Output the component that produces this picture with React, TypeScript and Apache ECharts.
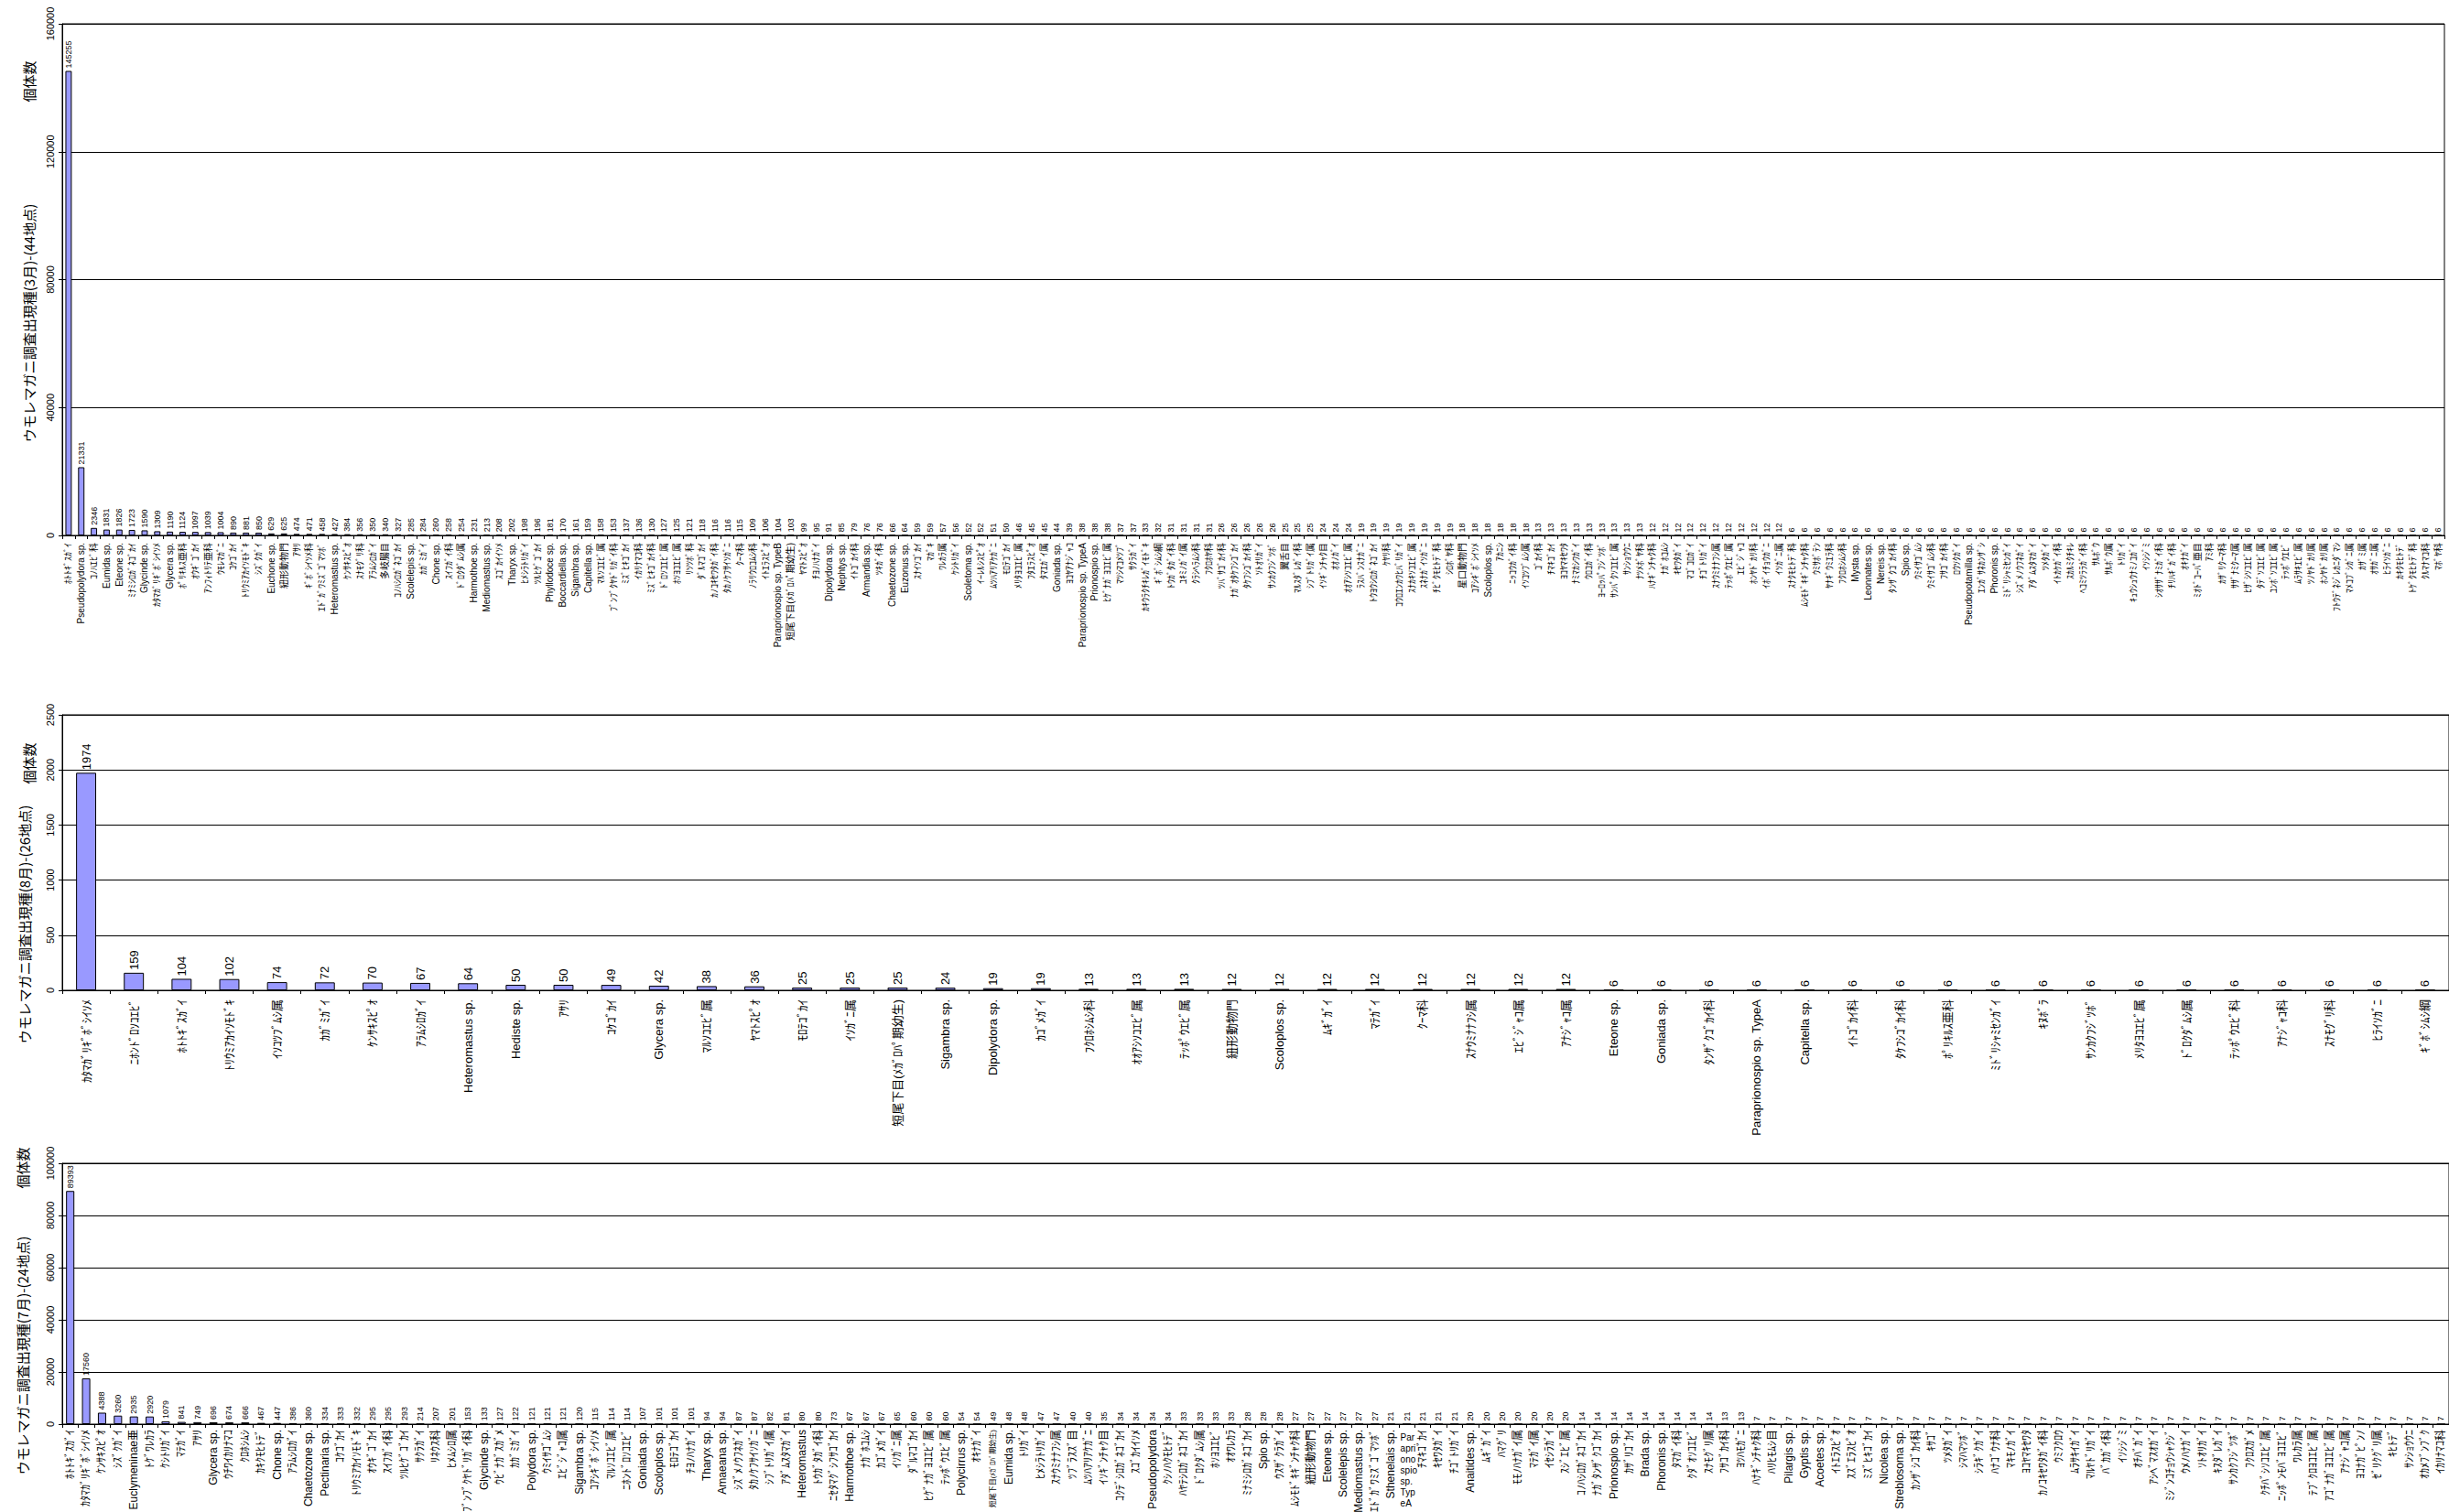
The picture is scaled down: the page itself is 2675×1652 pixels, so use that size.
import React, { useEffect, useRef } from "react";
import * as echarts from "echarts";

// ---------- Panel 1 : March (44 sites) ----------
const cats1 = [
  "ﾎﾄﾄｷﾞｽｶﾞｲ", "Pseudopolydora sp.", "ｺﾉﾊｴﾋﾞ科", "Eumida sp.", "Eteone sp.", "ﾐﾅﾐｼﾛｶﾞﾈｺﾞｶｲ", "Glycinde sp.", "ｶﾀﾏｶﾞﾘｷﾞﾎﾞｼｲｿﾒ",
  "Glycera sp.", "ﾎﾟﾘｷﾙｽ亜科", "ｵｳｷﾞｺﾞｶｲ", "ｱﾝﾌｨﾄﾘﾃ亜科", "ｳﾓﾚﾏｶﾞﾆ", "ｺｹｺﾞｶｲ", "ﾄﾘｳﾐｱｶｲｿﾓﾄﾞｷ", "ｼｽﾞｸｶﾞｲ",
  "Euchone sp.", "紐形動物門", "ｱｻﾘ", "ｷﾞﾎﾞｼｲｿﾒ科", "ｴﾄﾞｶﾞﾜﾐｽﾞｺﾞﾏﾂﾎﾞ", "Heteromastus sp.", "ｹﾝｻｷｽﾋﾟｵ", "ｽﾅﾓｸﾞﾘ科",
  "ｱﾗﾑｼﾛｶﾞｲ", "多岐腸目", "ｺﾉﾊｼﾛｶﾞﾈｺﾞｶｲ", "Scolelepis sp.", "ｶｶﾞﾐｶﾞｲ", "Chone sp.", "ｽｲﾌｶﾞｲ科", "ﾄﾞﾛｸﾀﾞﾑｼ属",
  "Harmothoe sp.", "Mediomastus sp.", "ｽｺﾞｶｲｲｿﾒ", "Tharyx sp.", "ﾋﾒｼﾗﾄﾘｶﾞｲ", "ﾂﾙﾋｹﾞｺﾞｶｲ", "Phyllodoce sp.", "Boccardiella sp.",
  "Sigambra sp.", "Capitella sp.", "ﾏﾙｿｺｴﾋﾞ属", "ﾌﾞﾝﾌﾞｸﾔﾄﾞﾘｶﾞｲ科", "ﾐｽﾞﾋｷｺﾞｶｲ", "ｲｶﾘﾅﾏｺ科", "ﾐｽﾞﾋｷｺﾞｶｲ科", "ﾄﾞﾛｿｺｴﾋﾞ属",
  "ﾎｿﾖｺｴﾋﾞ属", "ﾘｿﾂﾎﾞ科", "ﾀﾞﾙﾏｺﾞｶｲ", "ｶﾉｺｷｾﾜﾀｶﾞｲ科", "ﾀｶﾉｹﾌｻｲｿｶﾞﾆ", "ｸｰﾏ科", "ﾉﾗﾘｳﾛｺﾑｼ科", "ｲﾄｴﾗｽﾋﾟｵ",
  "Paraprionospio sp. TypeB", "短尾下目(ﾒｶﾞﾛﾊﾟ期幼生)", "ﾔﾏﾄｽﾋﾟｵ", "ﾁﾖﾉﾊﾅｶﾞｲ", "Dipolydora sp.", "Nephtys sp.", "ｲﾄｺﾞｶｲ科", "Armandia sp.",
  "ﾂｷｶﾞｲ科", "Chaetozone sp.", "Euzonus sp.", "ｽﾅｲｿｺﾞｶｲ", "ﾏｶﾞｷ", "ﾜﾚｶﾗ属", "ｹｼﾄﾘｶﾞｲ", "Scoletoma sp.",
  "ｲｰﾚﾙｼｽﾋﾟｵ", "ﾑﾂﾊｱﾘｱｹｶﾞﾆ", "ﾓﾛﾃｺﾞｶｲ", "ﾒﾘﾀﾖｺｴﾋﾞ属", "ﾌﾀｴﾗｽﾋﾟｵ", "ﾀﾏｴｶﾞｲ属", "Goniada sp.", "ﾖｺﾔｱﾅｼﾞｬｺ",
  "Paraprionospio sp. TypeA", "Prionospio sp.", "ﾋｹﾞﾅｶﾞﾖｺｴﾋﾞ属", "ﾏﾂｼﾏｺﾒﾂﾌﾞ", "ｻｸﾗｶﾞｲ", "ｶｷｳﾗｸﾁｷﾚｶﾞｲﾓﾄﾞｷ", "ｷﾞﾎﾞｼﾑｼ綱", "ﾄｳｶﾞﾀｶﾞｲ科",
  "ﾕｷﾐﾉｶﾞｲ属", "ｸﾗｼﾍﾗﾑｼ科", "ﾌｸﾛﾎﾔ科", "ﾂﾊﾞｻｺﾞｶｲ科", "ﾅｶﾞｵﾀｹﾌｼｺﾞｶｲ", "ﾀｹﾌｼｺﾞｶｲ科", "ｿﾄｵﾘｶﾞｲ", "ｻﾝｶｸﾌｼﾞﾂﾎﾞ",
  "翼舌目", "ﾏﾙｽﾀﾞﾚｶﾞｲ科", "ｼﾌﾞﾄﾘｶﾞｲ属", "ｲｿｷﾞﾝﾁｬｸ目", "ｵｵﾉｶﾞｲ", "ｵｵｱｼｿｺｴﾋﾞ属", "ﾗｽﾊﾞﾝｽﾅｶﾞﾆ", "ﾄｳﾖｳｼﾛｶﾞﾈｺﾞｶｲ",
  "ｹﾔﾘ科", "ｺｳﾛｴﾝｶﾜﾋﾊﾞﾘｶﾞｲ", "ｽﾅｶｷｿｺｴﾋﾞ属", "ｽﾈﾅｶﾞｲｿｶﾞﾆ", "ﾁﾋﾞｸﾓﾋﾄﾃﾞ科", "ｼﾛﾎﾞﾔ科", "星口動物門", "ｺｱｼｷﾞﾎﾞｼｲｿﾒ",
  "Scoloplos sp.", "ｱｶﾆｼ", "ﾆｯｺｳｶﾞｲ科", "ｲｿｺﾂﾌﾞﾑｼ属", "ｺﾞｶｲ科", "ﾁﾏｷｺﾞｶｲ", "ﾖｺﾔﾏｷｾﾜﾀ", "ﾅﾐﾏｶｼﾜｶﾞｲ",
  "ｳﾛｺｶﾞｲ科", "ﾖｰﾛｯﾊﾟﾌｼﾞﾂﾎﾞ", "ｻﾝﾊﾟｸｿｺｴﾋﾞ属", "ｻﾝｼｮｳｳﾆ", "ﾅﾂﾒﾎﾞﾔ科", "ﾊﾅｷﾞﾝﾁｬｸ科", "ﾅｶﾞﾎｺﾑｼ", "ｷｾﾜﾀｶﾞｲ",
  "ﾏｺﾞｺﾛｶﾞｲ", "ﾁｺﾞﾄﾘｶﾞｲ", "ｽﾅｳﾐﾅﾅﾌｼ属", "ﾃｯﾎﾟｳｴﾋﾞ属", "ｴﾋﾞｼﾞｬｺ", "ﾎﾝﾔﾄﾞｶﾘ科", "ｲﾎﾞｲﾁｮｳｶﾞﾆ", "ｲｿｶﾞﾆ属",
  "ｽﾅｸﾓﾋﾄﾃﾞ科", "ﾑｼﾓﾄﾞｷｷﾞﾝﾁｬｸ科", "ｳﾐｻﾎﾞﾃﾝ", "ﾔﾅｷﾞｳﾐｴﾗ科", "ﾌｸﾛﾎｼﾑｼ科", "Mysta sp.", "Leonnates sp.", "Nereis sp.",
  "ﾀﾝｻﾞｸｺﾞｶｲ科", "Spio sp.", "ｳﾐｲｻｺﾞﾑｼ", "ｳﾐｲｻｺﾞﾑｼ科", "ﾌｻｺﾞｶｲ科", "ﾛｳｿｸｶﾞｲ", "Pseudopotamilla sp.", "ｴﾝｶﾞｻﾈｶﾝｻﾞｼ",
  "Phoronis sp.", "ﾐﾄﾞﾘｼｬﾐｾﾝｶﾞｲ", "ｼｽﾞﾒﾉｳﾌﾈｶﾞｲ", "ｱﾀﾞﾑｽﾀﾏｶﾞｲ", "ﾂﾒﾀｶﾞｲ", "ｲﾄｶｹｶﾞｲ科", "ｽｶﾙﾐｸﾁｷﾚ", "ﾍｺﾐﾂﾗﾗｶﾞｲ科",
  "ｻﾙﾎﾞｳ", "ｻﾙﾎﾞｳ属", "ﾄﾘｶﾞｲ", "ｷｭｳｼｭｳﾅﾐﾉｺｶﾞｲ", "ｲｿｼｼﾞﾐ", "ｼｵｻｻﾞﾅﾐｶﾞｲ科", "ﾁﾘﾊｷﾞｶﾞｲ科", "ｵｷﾅｶﾞｲ",
  "ﾐｵﾄﾞｺｰﾊﾟ亜目", "ｱﾐ科", "ｶｻﾞﾘｸｰﾏ科", "ｻｻﾞﾅﾐｸｰﾏ属", "ﾋｻﾞｼｿｺｴﾋﾞ属", "ﾀﾃﾞｿｺｴﾋﾞ属", "ﾕﾝﾎﾞｿｺｴﾋﾞ属", "ﾃｯﾎﾟｳｴﾋﾞ",
  "ﾑﾗｻｷｴﾋﾞ属", "ﾂﾉﾔﾄﾞｶﾘ属", "ﾎﾝﾔﾄﾞｶﾘ属", "ﾌﾄｳﾃﾞﾈｼﾞﾚｶﾆﾀﾞﾏｼ", "ﾏﾒｺﾌﾞｼｶﾞﾆ属", "ｶｻﾞﾐ属", "ｵｻｶﾞﾆ属", "ﾋﾗｲｿｶﾞﾆ",
  "ｶｷｸﾓﾋﾄﾃﾞ", "ﾄｹﾞｸﾓﾋﾄﾃﾞ科", "ｸﾙﾏﾅﾏｺ科", "ﾏﾎﾞﾔ科",
];
const vals1 = [
  145255, 21331, 2346, 1831, 1826, 1723, 1590, 1309,
  1190, 1124, 1097, 1039, 1004, 890, 881, 850,
  629, 625, 474, 471, 458, 427, 384, 356,
  350, 340, 327, 285, 284, 260, 258, 254,
  231, 213, 208, 202, 198, 196, 181, 170,
  161, 159, 158, 153, 137, 136, 130, 127,
  125, 121, 118, 116, 116, 115, 109, 106,
  104, 103, 99, 95, 91, 85, 79, 76,
  76, 66, 64, 59, 59, 57, 56, 52,
  52, 51, 50, 46, 45, 45, 44, 39,
  38, 38, 38, 37, 37, 33, 32, 31,
  31, 31, 31, 26, 26, 26, 26, 26,
  25, 25, 25, 24, 24, 24, 19, 19,
  19, 19, 19, 19, 19, 19, 18, 18,
  18, 18, 18, 18, 13, 13, 13, 13,
  13, 13, 13, 13, 13, 12, 12, 12,
  12, 12, 12, 12, 12, 12, 12, 12,
  6, 6, 6, 6, 6, 6, 6, 6,
  6, 6, 6, 6, 6, 6, 6, 6,
  6, 6, 6, 6, 6, 6, 6, 6,
  6, 6, 6, 6, 6, 6, 6, 6,
  6, 6, 6, 6, 6, 6, 6, 6,
  6, 6, 6, 6, 6, 6, 6, 6,
  6, 6, 6, 6,
];

// ---------- Panel 2 : August (26 sites) ----------
const cats2 = [
  "ｶﾀﾏｶﾞﾘｷﾞﾎﾞｼｲｿﾒ", "ﾆﾎﾝﾄﾞﾛｿｺｴﾋﾞ", "ﾎﾄﾄｷﾞｽｶﾞｲ", "ﾄﾘｳﾐｱｶｲｿﾓﾄﾞｷ", "ｲｿｺﾂﾌﾞﾑｼ属", "ｶｶﾞﾐｶﾞｲ", "ｹﾝｻｷｽﾋﾟｵ", "ｱﾗﾑｼﾛｶﾞｲ",
  "Heteromastus sp.", "Hediste sp.", "ｱｻﾘ", "ｺｹｺﾞｶｲ", "Glycera sp.", "ﾏﾙｿｺｴﾋﾞ属", "ﾔﾏﾄｽﾋﾟｵ", "ﾓﾛﾃｺﾞｶｲ",
  "ｲｿｶﾞﾆ属", "短尾下目(ﾒｶﾞﾛﾊﾟ期幼生)", "Sigambra sp.", "Dipolydora sp.", "ｶｺﾞﾒｶﾞｲ", "ﾌｸﾛﾎｼﾑｼ科", "ｵｵｱｼｿｺｴﾋﾞ属", "ﾃｯﾎﾟｳｴﾋﾞ属",
  "紐形動物門", "Scoloplos sp.", "ﾑｷﾞｶﾞｲ", "ﾏﾃｶﾞｲ", "ｸｰﾏ科", "ｽﾅｳﾐﾅﾅﾌｼ属", "ｴﾋﾞｼﾞｬｺ属", "ｱﾅｼﾞｬｺ属",
  "Eteone sp.", "Goniada sp.", "ﾀﾝｻﾞｸｺﾞｶｲ科", "Paraprionospio sp. TypeA", "Capitella sp.", "ｲﾄｺﾞｶｲ科", "ﾀｹﾌｼｺﾞｶｲ科", "ﾎﾟﾘｷﾙｽ亜科",
  "ﾐﾄﾞﾘｼｬﾐｾﾝｶﾞｲ", "ｷﾇﾎﾞﾗ", "ｻﾝｶｸﾌｼﾞﾂﾎﾞ", "ﾒﾘﾀﾖｺｴﾋﾞ属", "ﾄﾞﾛｸﾀﾞﾑｼ属", "ﾃｯﾎﾟｳｴﾋﾞ科", "ｱﾅｼﾞｬｺ科", "ｽﾅﾓｸﾞﾘ科",
  "ﾋﾗｲｿｶﾞﾆ", "ｷﾞﾎﾞｼﾑｼ綱",
];
const vals2 = [
  1974, 159, 104, 102, 74, 72, 70, 67,
  64, 50, 50, 49, 42, 38, 36, 25,
  25, 25, 24, 19, 19, 13, 13, 13,
  12, 12, 12, 12, 12, 12, 12, 12,
  6, 6, 6, 6, 6, 6, 6, 6,
  6, 6, 6, 6, 6, 6, 6, 6,
  6, 6,
];

// ---------- Panel 3 : July (24 sites) ----------
const cats3 = [
  "ﾎﾄﾄｷﾞｽｶﾞｲ", "ｶﾀﾏｶﾞﾘｷﾞﾎﾞｼｲｿﾒ", "ｹﾝｻｷｽﾋﾟｵ", "ｼｽﾞｸｶﾞｲ", "Euclymeninae亜", "ﾄｹﾞﾜﾚｶﾗ", "ｹｼﾄﾘｶﾞｲ", "ﾏﾃｶﾞｲ",
  "ｱｻﾘ", "Glycera sp.", "ｳﾁﾜｲｶﾘﾅﾏｺ", "ｸﾛﾎｼﾑｼ", "ｶｷｸﾓﾋﾄﾃﾞ", "Chone sp.", "ｱﾗﾑｼﾛｶﾞｲ", "Chaetozone sp.",
  "Pectinaria sp.", "ｺｹｺﾞｶｲ", "ﾄﾘｳﾐｱｶｲｿﾓﾄﾞｷ", "ｵｳｷﾞｺﾞｶｲ", "ｽｲﾌｶﾞｲ科", "ﾂﾙﾋｹﾞｺﾞｶｲ", "ｻｸﾗｶﾞｲ", "ﾘﾈｳｽ科",
  "ﾋﾒﾑｼﾛ属", "ﾌﾞﾝﾌﾞｸﾔﾄﾞﾘｶﾞｲ科", "Glycinde sp.", "ｳﾋﾞﾅｶﾞｽｶﾞﾒ", "ｶｶﾞﾐｶﾞｲ",
  "Polydora sp.", "ｳﾐｲｻｺﾞﾑｼ", "ｴﾋﾞｼﾞｬｺ属", "Sigambra sp.", "ｺｱｼｷﾞﾎﾞｼｲｿﾒ", "ﾏﾙｿｺｴﾋﾞ属", "ﾆﾎﾝﾄﾞﾛｿｺｴﾋﾞ", "Goniada sp.",
  "Scoloplos sp.", "ﾓﾛﾃｺﾞｶｲ", "ﾁﾖﾉﾊﾅｶﾞｲ", "Tharyx sp.", "Amaeana sp.", "ｼｽﾞﾒﾉｳﾌﾈｶﾞｲ", "ﾀｶﾉｹﾌｻｲｿｶﾞﾆ", "ｼﾌﾞﾄﾘｶﾞｲ属",
  "ｱﾀﾞﾑｽﾀﾏｶﾞｲ", "Heteromastus", "ﾄｳｶﾞﾀｶﾞｲ科", "ﾆｾﾀﾏｸﾞｼﾌｻｺﾞｶｲ", "Harmothoe sp.", "ﾅｶﾞﾎｺﾑｼ", "ｶｺﾞﾒｶﾞｲ", "ｲｿｶﾞﾆ属",
  "ﾀﾞﾙﾏｺﾞｶｲ", "ﾋｹﾞﾅｶﾞﾖｺｴﾋﾞ属", "ﾃｯﾎﾟｳｴﾋﾞ属", "Polycirrus sp.", "ｵｷﾅｶﾞｲ", "短尾下目(ﾒｶﾞﾛﾊﾟ期幼生)",
  "Eumida sp.", "ﾄﾘｶﾞｲ", "ﾋﾒｼﾗﾄﾘｶﾞｲ", "ｽﾅｳﾐﾅﾅﾌｼ属", "ﾂﾌﾞﾗｽｽﾞ目", "ﾑﾂﾊｱﾘｱｹｶﾞﾆ", "ｲｿｷﾞﾝﾁｬｸ目", "ｺｸﾃﾞｼﾛｶﾞﾈｺﾞｶｲ",
  "ｽｺﾞｶｲｲｿﾒ", "Pseudopolydora", "ｸｼﾉﾊｸﾓﾋﾄﾃﾞ", "ﾊﾔﾃｼﾛｶﾞﾈｺﾞｶｲ", "ﾄﾞﾛｸﾀﾞﾑｼ属", "ﾎｿﾖｺｴﾋﾞ", "ｵｵﾜﾚｶﾗ", "ﾐﾅﾐｼﾛｶﾞﾈｺﾞｶｲ",
  "Spio sp.", "ｳｽｻﾞｸﾗｶﾞｲ", "ﾑｼﾓﾄﾞｷｷﾞﾝﾁｬｸ科", "紐形動物門", "Eteone sp.", "Scolelepis sp.", "Mediomastus sp.", "ｴﾄﾞｶﾞﾜﾐｽﾞｺﾞﾏﾂﾎﾞ",
  "Sthenelais sp.", "Paraprionospio sp. TypeA", "ﾁﾏｷｺﾞｶｲ", "ｷｾﾜﾀｶﾞｲ", "ﾁｺﾞﾄﾘｶﾞｲ", "Anaitides sp.",
  "ﾑｷﾞｶﾞｲ", "ﾊﾏｸﾞﾘ", "ﾓﾓﾉﾊﾅｶﾞｲ属", "ﾏﾃｶﾞｲ属", "ｲｾｼﾗｶﾞｲ", "ｽｼﾞｴﾋﾞ属", "ｺﾉﾊｼﾛｶﾞﾈｺﾞｶｲ", "ﾅｶﾞﾀﾝｻﾞｸｺﾞｶｲ",
  "Prionospio sp.", "ｶｻﾞﾘｺﾞｶｲ", "Brada sp.", "Phoronis sp.", "ﾀﾏｶﾞｲ科", "ｸﾀﾞｵｿｺｴﾋﾞ", "ｽﾅﾓｸﾞﾘ属", "ﾌｻｺﾞｶｲ科",
  "ﾖﾂﾊﾓｶﾞﾆ", "ﾊﾅｷﾞﾝﾁｬｸ科", "ﾊﾘﾋﾓﾑｼ目", "Pilargis sp.", "Gyptis sp.", "Acoetes sp.", "ｲﾄｴﾗｽﾋﾟｵ", "ｽｽﾞｴﾗｽﾋﾟｵ",
  "ﾐｽﾞﾋｷｺﾞｶｲ", "Nicolea sp.", "Streblosoma sp.", "ｶﾝｻﾞｼｺﾞｶｲ科", "ｷｻｺﾞ", "ﾂﾒﾀｶﾞｲ",
  "ｼﾏﾊﾏﾂﾎﾞ", "ｼﾗｷﾞｸｶﾞｲ", "ﾊﾅｺﾞｳﾅ科", "ﾏｷﾓﾉｶﾞｲ", "ﾖｺﾔﾏｷｾﾜﾀ", "ｶﾉｺｷｾﾜﾀｶﾞｲ科", "ｳﾐﾌｸﾛｳ", "ﾑﾗｻｷｲｶﾞｲ",
  "ﾏﾙﾔﾄﾞﾘｶﾞｲ", "ﾊﾞｶｶﾞｲ科", "ｲｿｼｼﾞﾐ", "ｵﾁﾊﾞｶﾞｲ", "ｱｼﾍﾞﾏｽｵｶﾞｲ", "ﾐｼﾞﾝｺﾁｮｳｼｬｸｼﾞ", "ｳﾒﾉﾊﾅｶﾞｲ", "ｿﾄｵﾘｶﾞｲ",
  "ｷｽﾀﾞﾚｶﾞｲ", "ｻﾝｶｸﾌｼﾞﾂﾎﾞ", "ﾌｸﾛｽｶﾞﾒ", "ｸﾁﾊﾞｼｿｺｴﾋﾞ属", "ﾆｯﾎﾟﾝﾓﾊﾞﾖｺｴﾋﾞ", "ﾜﾚｶﾗ属", "ﾃﾌﾞｸﾛﾖｺｴﾋﾞ属", "ｱｺﾞﾅｶﾞﾖｺｴﾋﾞ属",
  "ｱﾅｼﾞｬｺ属", "ﾖｺﾅｶﾞﾋﾟﾝﾉ", "ｾﾞﾘｸｸﾞﾘ属", "ｷﾋﾄﾃﾞ", "ｻﾝｼｮｳｳﾆ", "ｵｶﾒﾌﾞﾝﾌﾞｸ", "ｲｶﾘﾅﾏｺ科",
];
const vals3 = [
  89393, 17560, 4388, 3260, 2935, 2920, 1079, 841,
  749, 696, 674, 666, 467, 447, 386, 360,
  334, 333, 332, 295, 295, 293, 214, 207,
  201, 153, 133, 127, 122,
  121, 121, 121, 120, 115, 114, 114, 107,
  101, 101, 101, 94, 94, 87, 87, 82,
  81, 80, 80, 73, 67, 67, 67, 65,
  60, 60, 60, 54, 54, 49,
  48, 48, 47, 47, 40, 40, 35, 34,
  34, 34, 34, 33, 33, 33, 33, 28,
  28, 28, 27, 27, 27, 27, 27, 27,
  21, 21, 21, 21, 21, 20,
  20, 20, 20, 20, 20, 20, 14, 14,
  14, 14, 14, 14, 14, 14, 14, 13,
  13, 7, 7, 7, 7, 7, 7, 7,
  7, 7, 7, 7, 7, 7,
  7, 7, 7, 7, 7, 7, 7, 7,
  7, 7, 7, 7, 7, 7, 7, 7,
  7, 7, 7, 7, 7, 7, 7, 7,
  7, 7, 7, 7, 7, 7, 7,
];

// ---------- axis settings / texts ----------
const yMax = [160000, 2500, 100000];
const yStep = [40000, 500, 20000];
const panelTitles = [
  "ウモレマガニ調査出現種(3月)-(44地点)",
  "ウモレマガニ調査出現種(8月)-(26地点)",
  "ウモレマガニ調査出現種(7月)-(24地点)",
];
const unitLabel = "個体数";
const wrappedLabel = "Paraprionospio sp. TypeA";
const wrappedText = "Par\napri\nono\nspio\nsp.\nTyp\neA";
const longLabel3 = "短尾下目(ﾒｶﾞﾛﾊﾟ期幼生)";

const FONT = "'Liberation Sans', 'Noto Sans CJK JP', sans-serif";
const JFONT = "'Noto Sans CJK JP', sans-serif";

export default function App() {
  const ref = useRef<HTMLDivElement>(null);

  useEffect(() => {
    const chart = echarts.init(ref.current!, null, { renderer: "svg" });

    const grids = [
      { left: 68, top: 26, width: 2602, height: 559 },
      { left: 68, top: 781, right: 0, height: 301 },
      { left: 68, top: 1271, right: 0, height: 285 },
    ];
    const catsAll = [cats1, cats2, cats3];
    const valsAll = [vals1, vals2, vals3];
    const catFont = [10, 13, 12];
    const catMargin = [8, 10, 6];
    const valFont = [9, 13, 9];
    const barW = ["50%", "42%", "52%"];

    const option: any = {
      animation: false,
      backgroundColor: "#ffffff",
      grid: grids.map((g) => ({
        ...g,
        show: true,
        borderColor: "#000",
        borderWidth: 1,
        containLabel: false,
        outerBoundsMode: "none",
      })),
      xAxis: catsAll.map((cats, i) => ({
        type: "category",
        gridIndex: i,
        data: cats,
        axisLine: { lineStyle: { color: "#000", width: 1 } },
        axisTick: { show: true, interval: 0, length: 4, alignWithLabel: false, lineStyle: { color: "#000" } },
        axisLabel: {
          interval: 0,
          rotate: 90,
          fontSize: catFont[i],
          color: "#000",
          margin: catMargin[i],
          fontFamily: FONT,
          rich: { s: { fontSize: 8, fontFamily: FONT, color: "#000" } },
          formatter: (v: string) => {
            if (i === 2 && v === wrappedLabel) return "";
            if (i === 2 && v === longLabel3) return `{s|${v}}`;
            return v;
          },
        },
      })),
      yAxis: yMax.map((m, i) => ({
        type: "value",
        gridIndex: i,
        min: 0,
        max: m,
        interval: yStep[i],
        axisLine: { show: true, lineStyle: { color: "#000" } },
        axisTick: { show: true, length: 4, lineStyle: { color: "#000" } },
        axisLabel: {
          rotate: 90,
          fontSize: 11,
          color: "#000",
          margin: 8,
          fontFamily: FONT,
          formatter: (v: number) => String(v),
        },
        splitLine: { show: true, lineStyle: { color: "#000", width: 1 } },
      })),
      series: valsAll.map((vals, i) => ({
        type: "bar",
        xAxisIndex: i,
        yAxisIndex: i,
        data: vals,
        barWidth: barW[i],
        itemStyle: { color: "#9999FF", borderColor: "#000", borderWidth: 1 },
        label: {
          show: true,
          position: "top",
          rotate: 90,
          align: "left",
          verticalAlign: "middle",
          distance: 3,
          fontSize: valFont[i],
          color: "#000",
          fontFamily: FONT,
        },
      })),
    };
    chart.setOption(option);

    const idx = cats3.indexOf(wrappedLabel);
    const px = chart.convertToPixel({ xAxisIndex: 2 }, idx) as number;
    const py = chart.convertToPixel({ yAxisIndex: 2 }, 0) as number;

    const namePos = [
      { nx: 31, ny: 353, ux: 31, uy: 89 },
      { nx: 26, ny: 1010, ux: 31, uy: 834 },
      { nx: 24, ny: 1481, ux: 24, uy: 1276 },
    ];
    const graphics: any[] = [];
    namePos.forEach((p, i) => {
      graphics.push({
        type: "text",
        x: p.nx,
        y: p.ny,
        rotation: Math.PI / 2,
        style: { text: panelTitles[i], fill: "#000", font: `15px ${JFONT}`, align: "center", verticalAlign: "middle" },
      });
      graphics.push({
        type: "text",
        x: p.ux,
        y: p.uy,
        rotation: Math.PI / 2,
        style: { text: unitLabel, fill: "#000", font: `15px ${JFONT}`, align: "center", verticalAlign: "middle" },
      });
    });
    graphics.push({
      type: "text",
      x: px - 7,
      y: py + 8,
      style: { text: wrappedText, fill: "#000", font: `10px ${FONT}`, lineHeight: 12, align: "left", verticalAlign: "top" },
    });
    chart.setOption({ graphic: graphics });

    return () => chart.dispose();
  }, []);

  return <div ref={ref} style={{ position: "fixed", left: 0, top: 0, width: 2675, height: 1652 }} />;
}
